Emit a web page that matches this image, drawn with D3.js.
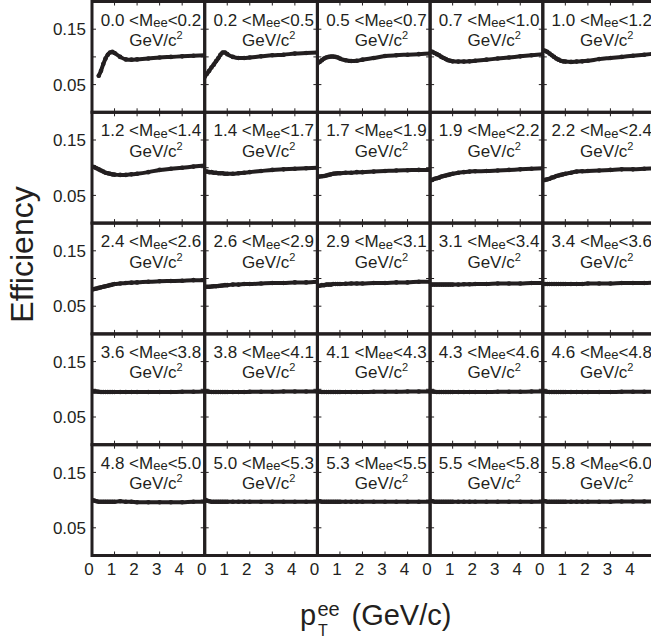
<!DOCTYPE html>
<html><head><meta charset="utf-8">
<script src="https://cdn.jsdelivr.net/npm/d3@7"></script>
<style>body{margin:0;background:#fff}svg{display:block}</style>
</head><body>
<svg id="c" width="651" height="641"></svg>
<script>
// ---------- data ----------
const massLow  = ["0.0","0.2","0.5","0.7","1.0","1.2","1.4","1.7","1.9","2.2","2.4","2.6","2.9","3.1","3.4","3.6","3.8","4.1","4.3","4.6","4.8","5.0","5.3","5.5","5.8"];
const massHigh = ["0.2","0.5","0.7","1.0","1.2","1.4","1.7","1.9","2.2","2.4","2.6","2.9","3.1","3.4","3.6","3.8","4.1","4.3","4.6","4.8","5.0","5.3","5.5","5.8","6.0"];
const pT = [0,0.1,0.2,0.3,0.4,0.5,0.6,0.7,0.8,0.9,1.0,1.25,1.5,1.75,2.0,2.5,3.0,3.5,4.0,4.5,5.0];

const eff01 = [null,null,null,0.066,0.075,0.087,0.097,0.104,0.108,0.109,0.107,0.100,0.0955,0.095,0.0955,0.097,0.099,0.100,0.101,0.102,0.103];
const eff02 = [0.064,0.0695,0.075,0.081,0.086,0.092,0.0975,0.104,0.108,0.108,0.105,0.100,0.098,0.098,0.099,0.101,0.103,0.104,0.106,0.107,0.108];
const eff03 = [0.088,0.091,0.094,0.097,0.099,0.100,0.1005,0.1005,0.100,0.099,0.097,0.094,0.0925,0.093,0.095,0.098,0.1015,0.103,0.104,0.105,0.106];
const eff04 = [0.110,0.109,0.107,0.105,0.103,0.100,0.098,0.096,0.094,0.093,0.092,0.0915,0.0915,0.092,0.093,0.095,0.097,0.099,0.101,0.103,0.105];
const eff05 = [0.112,0.111,0.109,0.106,0.103,0.100,0.097,0.095,0.093,0.092,0.0915,0.091,0.0915,0.092,0.093,0.096,0.098,0.100,0.102,0.104,0.106];
const eff06 = [0.102,0.101,0.099,0.097,0.095,0.093,0.091,0.090,0.089,0.088,0.0875,0.087,0.087,0.088,0.089,0.092,0.096,0.098,0.100,0.102,0.104];
const eff07 = [0.093,0.093,0.092,0.092,0.091,0.091,0.090,0.090,0.090,0.089,0.089,0.089,0.090,0.091,0.092,0.094,0.096,0.097,0.098,0.099,0.100];
const eff08 = [0.083,0.084,0.0845,0.085,0.086,0.087,0.088,0.089,0.0895,0.090,0.090,0.091,0.091,0.092,0.092,0.093,0.094,0.095,0.0955,0.096,0.096];
const eff09 = [0.077,0.078,0.080,0.081,0.082,0.084,0.085,0.086,0.087,0.088,0.089,0.091,0.092,0.093,0.0935,0.094,0.095,0.096,0.097,0.098,0.099];
const eff10 = [0.077,0.078,0.079,0.080,0.082,0.083,0.085,0.086,0.087,0.088,0.089,0.091,0.093,0.0935,0.094,0.095,0.096,0.097,0.097,0.098,0.099];
const eff11 = [0.080,0.081,0.082,0.083,0.084,0.085,0.086,0.087,0.088,0.089,0.090,0.091,0.092,0.0925,0.093,0.094,0.095,0.0955,0.096,0.097,0.097];
const eff12 = [0.085,0.085,0.085,0.0855,0.086,0.086,0.0865,0.087,0.0875,0.088,0.088,0.089,0.089,0.090,0.090,0.091,0.092,0.092,0.093,0.093,0.094];
const eff13 = [0.087,0.087,0.088,0.088,0.089,0.089,0.089,0.090,0.090,0.090,0.090,0.0905,0.091,0.091,0.091,0.092,0.092,0.093,0.093,0.094,0.094];
const eff14 = [0.089,0.089,0.089,0.089,0.089,0.089,0.089,0.089,0.089,0.089,0.089,0.089,0.0895,0.0895,0.090,0.090,0.091,0.091,0.091,0.092,0.092];
const eff15 = [0.090,0.090,0.090,0.090,0.090,0.090,0.090,0.090,0.090,0.090,0.090,0.090,0.090,0.090,0.091,0.091,0.091,0.092,0.092,0.092,0.093];
const eff16 = [0.096,0.096,0.096,0.0955,0.095,0.095,0.095,0.095,0.095,0.095,0.095,0.095,0.095,0.095,0.095,0.095,0.095,0.095,0.0955,0.0955,0.096];
const eff17 = [0.096,0.096,0.0955,0.095,0.095,0.095,0.095,0.095,0.095,0.095,0.095,0.095,0.095,0.095,0.0955,0.0955,0.0955,0.096,0.096,0.096,0.096];
const eff18 = [0.096,0.0955,0.095,0.095,0.095,0.095,0.095,0.095,0.095,0.095,0.095,0.095,0.095,0.095,0.095,0.0955,0.0955,0.0955,0.096,0.096,0.096];
const eff19 = [0.097,0.096,0.0955,0.095,0.095,0.095,0.095,0.095,0.095,0.095,0.095,0.095,0.095,0.095,0.095,0.095,0.0955,0.0955,0.0955,0.096,0.096];
const eff20 = [0.097,0.096,0.0955,0.095,0.095,0.095,0.095,0.095,0.095,0.095,0.095,0.095,0.095,0.095,0.095,0.095,0.095,0.0955,0.0955,0.0955,0.096];
const eff21 = [0.100,0.099,0.098,0.097,0.097,0.097,0.097,0.097,0.097,0.097,0.097,0.098,0.097,0.097,0.096,0.096,0.096,0.096,0.096,0.097,0.097];
const eff22 = [0.101,0.099,0.098,0.097,0.097,0.097,0.097,0.097,0.097,0.097,0.097,0.097,0.097,0.097,0.097,0.097,0.097,0.097,0.097,0.097,0.097];
const eff23 = [0.099,0.098,0.097,0.097,0.097,0.097,0.097,0.097,0.097,0.097,0.097,0.097,0.097,0.097,0.097,0.097,0.097,0.097,0.097,0.097,0.097];
const eff24 = [0.099,0.098,0.097,0.097,0.097,0.097,0.097,0.097,0.097,0.097,0.097,0.097,0.097,0.097,0.097,0.097,0.097,0.097,0.097,0.097,0.097];
const eff25 = [0.099,0.098,0.097,0.097,0.097,0.097,0.097,0.097,0.097,0.097,0.097,0.097,0.097,0.097,0.097,0.097,0.097,0.0975,0.0975,0.0975,0.0975];
const effSeries = [eff01,eff02,eff03,eff04,eff05,eff06,eff07,eff08,eff09,eff10,eff11,eff12,eff13,eff14,eff15,eff16,eff17,eff18,eff19,eff20,eff21,eff22,eff23,eff24,eff25];

const xTickVals = [0,1,2,3,4];
const yTickVals = [0.05,0.10,0.15];
const yLabelVals = [0.15,0.05];
const yLabelText = ["0.15","0.05"];
const xTitle = {main:"p", sup:"ee", sub:"T", rest:"(GeV/c)"};
const yTitle = "Efficiency";

// ---------- layout ----------
const ink = "#231f20";
const fontFam = "'Liberation Sans', Arial, Helvetica, sans-serif";
const X0 = 92, Y0 = 1.5, pw = 112.7, ph = 110.8, nCols = 5, nRows = 5;

const svg = d3.select("#c").style("font-family", fontFam);
const x = d3.scaleLinear().domain([0,5]).range([0,pw]);
const y = d3.scaleLinear().domain([0,0.2]).range([ph,0]);

const lineGen = d3.line()
  .defined(d => d[1] != null)
  .x(d => x(d[0])).y(d => y(d[1]))
  .curve(d3.curveMonotoneX);

svg.append("defs").append("clipPath").attr("id","pclip")
  .append("rect").attr("x",0).attr("y",0).attr("width",pw).attr("height",ph);

effSeries.forEach((vals, i) => {
  const c = i % nCols, r = Math.floor(i / nCols);
  const g = svg.append("g").attr("transform", `translate(${X0 + c*pw},${Y0 + r*ph})`);
  const pts = pT.map((p,k) => [p, vals[k]]);

  const inner = g.append("g").attr("clip-path","url(#pclip)");
  inner.append("path").datum(pts)
    .attr("d", lineGen).attr("fill","none").attr("stroke",ink)
    .attr("stroke-width",4).attr("stroke-linecap","round").attr("stroke-linejoin","round");
  inner.selectAll("circle").data(pts.filter(d => d[1] != null)).join("circle")
    .attr("cx", d => x(d[0])).attr("cy", d => y(d[1])).attr("r", 2.3).attr("fill", ink);

  // ticks (inward, mirrored)
  const tk = g.append("g").attr("stroke", ink).attr("stroke-width", 1);
  xTickVals.filter(t => t > 0).forEach(t => {
    tk.append("line").attr("x1",x(t)).attr("x2",x(t)).attr("y1",0).attr("y2",4);
    tk.append("line").attr("x1",x(t)).attr("x2",x(t)).attr("y1",ph).attr("y2",ph-4);
  });
  yTickVals.forEach(t => {
    tk.append("line").attr("x1",0).attr("x2",4).attr("y1",y(t)).attr("y2",y(t));
    tk.append("line").attr("x1",pw).attr("x2",pw-4).attr("y1",y(t)).attr("y2",y(t));
  });

  // frame
  g.append("rect").attr("x",0).attr("y",0).attr("width",pw).attr("height",ph)
    .attr("fill","none").attr("stroke",ink).attr("stroke-width",3);

  // panel label
  const t1 = g.append("text").attr("x",59).attr("y",24).attr("text-anchor","middle")
    .attr("font-size",17).attr("fill",ink);
  t1.append("tspan").text(`${massLow[i]} <M`);
  t1.append("tspan").attr("font-size",13).attr("dy",1.5).text("ee");
  t1.append("tspan").attr("dy",-1.5).text(`<${massHigh[i]}`);
  const t2 = g.append("text").attr("x",64).attr("y",44.5).attr("text-anchor","middle")
    .attr("font-size",17).attr("fill",ink);
  t2.append("tspan").text("GeV/c");
  t2.append("tspan").attr("font-size",11).attr("dy",-7).text("2");

  // y labels
  if (c === 0) {
    yLabelVals.forEach((v,k) => {
      g.append("text").attr("x",-6).attr("y",y(v)).attr("dy","0.37em")
        .attr("text-anchor","end").attr("font-size",17).attr("fill",ink).text(yLabelText[k]);
    });
  }
  // x labels
  if (r === nRows - 1) {
    xTickVals.forEach(t => {
      g.append("text").attr("x",x(t) - 3).attr("y",ph + 19.5).attr("text-anchor","middle")
        .attr("font-size",17).attr("fill",ink).text(String(t));
    });
  }
});

// axis titles
const xt = svg.append("g").attr("fill", ink);
xt.append("text").attr("x",300).attr("y",625).attr("font-size",29).text(xTitle.main);
xt.append("text").attr("x",317.5).attr("y",616).attr("font-size",20).text(xTitle.sup);
xt.append("text").attr("x",318).attr("y",636).attr("font-size",16).text(xTitle.sub);
xt.append("text").attr("x",351.5).attr("y",625).attr("font-size",29).text(xTitle.rest);

svg.append("text").attr("transform","translate(33,254.5) rotate(-90)")
  .attr("text-anchor","middle").attr("font-size",32).attr("fill",ink).text(yTitle);
</script>
</body></html>
